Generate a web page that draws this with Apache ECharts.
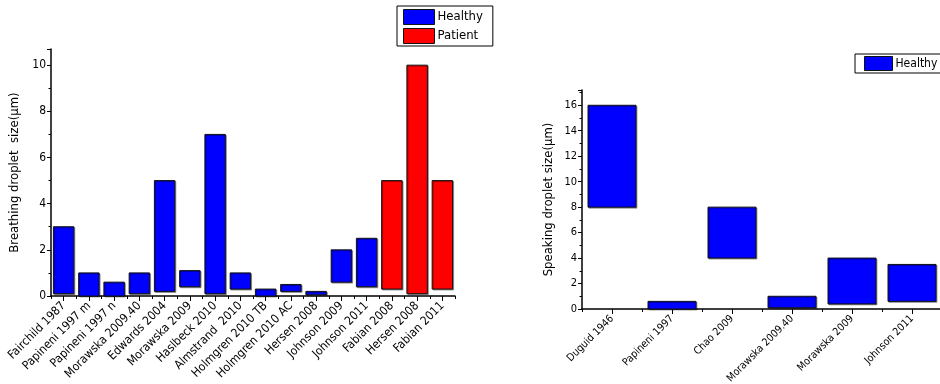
<!DOCTYPE html>
<html>
<head>
<meta charset="utf-8">
<script src="https://cdn.jsdelivr.net/npm/echarts@6/dist/echarts.min.js"></script>
<style>
  html, body { margin: 0; padding: 0; background: #fff; }
  #chart { width: 940px; height: 384px; }
</style>
</head>
<body>
<div id="chart"></div>
<script>
// Breathing droplet size ranges per study (low / high, µm)
const breathCategories = ['Fairchild 1987', 'Papineni 1997 m', 'Papineni 1997 n', 'Morawska 2009.40',
  'Edwards 2004', 'Morawska 2009', 'Haslbeck 2010', 'Almstrand  2010', 'Holmgren 2010 TB',
  'Holmgren 2010 AC', 'Hersen 2008', 'Johnson 2009', 'Johnson 2011', 'Fabian 2008', 'Hersen 2008', 'Fabian 2011'];
const breathLow  = [0.1, 0, 0, 0.1, 0.2, 0.4, 0.1, 0.3, 0, 0.2, 0.05, 0.6, 0.4, 0.3, 0.1, 0.3];
const breathHigh = [3, 1, 0.6, 1, 5, 1.1, 7, 1, 0.3, 0.5, 0.2, 2, 2.5, 5, 10, 5];
const breathGroup = ['Healthy', 'Healthy', 'Healthy', 'Healthy', 'Healthy', 'Healthy', 'Healthy', 'Healthy',
  'Healthy', 'Healthy', 'Healthy', 'Healthy', 'Healthy', 'Patient', 'Patient', 'Patient'];

// Speaking droplet size ranges per study (low / high, µm)
const speakCategories = ['Duguid 1946', 'Papineni 1997', 'Chao 2009', 'Morawska 2009.40', 'Morawska 2009', 'Johnson 2011'];
const speakLow  = [8, 0, 4, 0.1, 0.4, 0.6];
const speakHigh = [16, 0.6, 8, 1, 4, 3.5];

const FONT = '"DejaVu Sans Condensed", "DejaVu Sans", sans-serif';

function rangeRows(low, high, group, name) {
  const rows = [];
  for (let i = 0; i < low.length; i++) {
    if (!group || group[i] === name) rows.push([i, low[i], high[i]]);
  }
  return rows;
}

function makeRenderer(ratio) {
  return function (params, api) {
    const idx = api.value(0);
    const top = api.coord([idx, api.value(2)]);
    const bottom = api.coord([idx, api.value(1)]);
    const w = api.size([1, 0])[0] * ratio;
    return {
      type: 'rect',
      shape: { x: top[0] - w / 2, y: top[1], width: w, height: bottom[1] - top[1] },
      style: api.style()
    };
  };
}

const barStyle = (color) => ({
  color: color,
  borderColor: '#111',
  borderWidth: 1,
  shadowColor: 'rgba(0,0,0,0.35)',
  shadowOffsetX: 1,
  shadowOffsetY: 1,
  shadowBlur: 0
});

function valueAxis(gridIndex, max, name, labelSize) {
  return {
    type: 'value', gridIndex: gridIndex, min: 0, max: max, interval: 2,
    name: name, nameLocation: 'middle', nameGap: gridIndex === 0 ? 30 : 27,
    nameTextStyle: { fontFamily: FONT, fontSize: 13, color: '#000' },
    axisLine: { show: true, lineStyle: { color: '#000', width: 1.5 } },
    axisTick: { show: true, length: 4, lineStyle: { color: '#000' } },
    minorTick: { show: true, splitNumber: 2, length: 2.5, lineStyle: { color: '#000' } },
    splitLine: { show: false },
    axisLabel: {
      fontFamily: FONT, fontSize: labelSize, color: '#000', margin: 5,
      formatter: (v) => (v % 2 === 0 && v <= max - 0.5 ? String(v) : '')
    }
  };
}

function categoryAxes(gridIndex, cats, labelSize) {
  return [
    {
      type: 'category', gridIndex: gridIndex, data: cats,
      axisLine: { show: true, lineStyle: { color: '#000', width: 1.5 } },
      axisTick: { show: true, alignWithLabel: true, length: 5, lineStyle: { color: '#000' } },
      axisLabel: { interval: 0, rotate: 45, fontFamily: FONT, fontSize: labelSize, color: '#000', margin: 8 },
      splitLine: { show: false }
    },
    {
      type: 'category', gridIndex: gridIndex, data: cats, position: 'bottom',
      axisLine: { show: false },
      axisTick: { show: true, interval: 0, length: 3, lineStyle: { color: '#000' } },
      axisLabel: { show: false },
      splitLine: { show: false }
    }
  ];
}

const chart = echarts.init(document.getElementById('chart'));
chart.setOption({
  animation: false,
  backgroundColor: '#fff',
  grid: [
    { left: 51, top: 49, width: 404, height: 247, outerBoundsMode: 'none', containLabel: false },
    { left: 582, top: 90, width: 360, height: 219, outerBoundsMode: 'none', containLabel: false }
  ],
  legend: [
    {
      data: ['Healthy', 'Patient'], orient: 'vertical', left: 397, top: 6,
      icon: 'rect', itemWidth: 31, itemHeight: 15, itemGap: 3,
      padding: [3, 10, 2, 6], borderColor: '#000', borderWidth: 1,
      itemStyle: { borderColor: '#111', borderWidth: 1 },
      textStyle: { fontFamily: FONT, fontSize: 13, color: '#000', padding: [0, 0, 0, -2] },
      selectedMode: false
    },
    {
      data: ['Healthy'], orient: 'vertical', left: 855, top: 54,
      icon: 'rect', itemWidth: 28, itemHeight: 14,
      padding: [2, 10, 2, 9], borderColor: '#000', borderWidth: 1,
      itemStyle: { borderColor: '#111', borderWidth: 1 },
      textStyle: { fontFamily: FONT, fontSize: 12, color: '#000', padding: [0, 0, 0, -2] },
      selectedMode: false
    }
  ],
  xAxis: [].concat(categoryAxes(0, breathCategories, 12), categoryAxes(1, speakCategories, 10.5)),
  yAxis: [
    valueAxis(0, 10.7, 'Breathing droplet  size(\u03bcm)', 12),
    valueAxis(1, 17.2, 'Speaking droplet size(\u03bcm)', 11)
  ],
  series: [
    {
      name: 'Healthy', type: 'custom', xAxisIndex: 0, yAxisIndex: 0,
      renderItem: makeRenderer(0.81), itemStyle: barStyle('#0000ff'),
      encode: { x: 0, y: [1, 2] },
      data: rangeRows(breathLow, breathHigh, breathGroup, 'Healthy')
    },
    {
      name: 'Patient', type: 'custom', xAxisIndex: 0, yAxisIndex: 0,
      renderItem: makeRenderer(0.81), itemStyle: barStyle('#ff0000'),
      encode: { x: 0, y: [1, 2] },
      data: rangeRows(breathLow, breathHigh, breathGroup, 'Patient')
    },
    {
      name: 'Healthy', type: 'custom', xAxisIndex: 2, yAxisIndex: 1,
      renderItem: makeRenderer(0.8), itemStyle: barStyle('#0000ff'),
      encode: { x: 0, y: [1, 2] },
      data: rangeRows(speakLow, speakHigh)
    }
  ]
});
</script>
</body>
</html>
